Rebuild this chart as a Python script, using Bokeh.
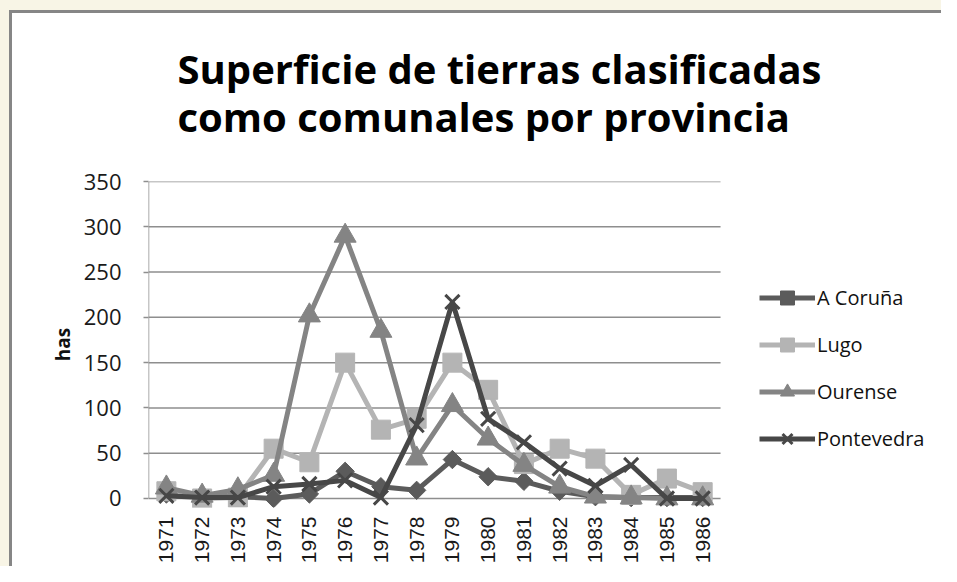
from bokeh.plotting import figure
from bokeh.models import Legend, LegendItem, Range1d, FixedTicker, Title
from bokeh.embed import file_html
from bokeh.resources import INLINE
import math

years = ["1971", "1972", "1973", "1974", "1975", "1976", "1977", "1978",
         "1979", "1980", "1981", "1982", "1983", "1984", "1985", "1986"]
a_coruna = [5, 2, 2, 0, 5, 30, 13, 9, 43, 24, 19, 8, 2, 1, 1, 1]
lugo = [8, 0, 1, 55, 40, 150, 76, 88, 150, 120, 38, 55, 44, 4, 22, 7]
ourense = [12, 3, 10, 26, 202, 290, 185, 44, 103, 66, 37, 13, 2, 1, 0, 0]
pontevedra = [3, 1, 1, 13, 16, 20, 1, 81, 217, 88, 62, 33, 14, 37, 0, 0]
series_names = ["A Coruña", "Lugo", "Ourense", "Pontevedra"]
y_ticks = [0, 50, 100, 150, 200, 250, 300, 350]
title_text = "Superficie de tierras clasificadas\ncomo comunales por provincia"
y_label = "has"

xs = list(range(len(years)))
x_lo, x_hi = -0.5, len(years) - 0.5

W, H = 941, 566
p = figure(x_range=Range1d(x_lo, 21.68), y_range=Range1d(-9.94, y_ticks[-1]),
           width=W, height=H, title=None,
           output_backend="svg", toolbar_location=None)
p.min_border_left = 148
p.min_border_right = 0
p.min_border_top = 181
p.min_border_bottom = 59
p.outline_line_color = None
p.background_fill_color = "white"
p.border_fill_color = None
beige = "#f8f5e6"
edge = "#868686"
p.styles = {
    "background": (
        f"linear-gradient(to bottom, {beige} 0px, {beige} 10px, transparent 10px), "
        f"linear-gradient(to right, {beige} 0px, {beige} 9px, {edge} 9px, {edge} 12px, transparent 12px), "
        f"linear-gradient(to bottom, {beige} 0px, {beige} 10px, {edge} 10px, {edge} 13px, white 13px)"
    ),
}

grid_col = "#8e8e8e"
p.xgrid.grid_line_color = None
p.ygrid.grid_line_color = None
p.yaxis.ticker = FixedTicker(ticks=y_ticks)
p.yaxis.axis_line_color = None
p.yaxis.major_tick_line_color = grid_col
p.yaxis.major_tick_line_width = 1.5
p.yaxis.major_tick_out = 5
p.yaxis.major_tick_in = 0
p.yaxis.minor_tick_line_color = None
p.yaxis.major_label_standoff = 22
p.yaxis.major_label_text_font = "Open Sans"
p.yaxis.major_label_text_font_size = "22px"
p.yaxis.major_label_text_color = "#1a1a1a"
p.yaxis.axis_label = y_label
p.yaxis.axis_label_text_font = "Open Sans"
p.yaxis.axis_label_text_font_style = "bold"
p.yaxis.axis_label_text_font_size = "19px"
p.yaxis.axis_label_text_color = "#111111"
p.yaxis.axis_label_standoff = 5

p.xaxis.ticker = FixedTicker(ticks=xs)
p.xaxis.major_label_overrides = {i: y for i, y in zip(xs, years)}
p.xaxis.axis_line_color = None
p.xaxis.major_tick_line_color = None
p.xaxis.minor_tick_line_color = None
p.xaxis.major_label_standoff = 3
p.xaxis.major_label_orientation = math.pi / 2
p.xaxis.major_label_text_font = "Liberation Sans"
p.xaxis.major_label_text_font_size = "21px"
p.xaxis.major_label_text_color = "#1a1a1a"

p.add_layout(Title(text=title_text, align="left", offset=29, standoff=74,
                   text_font="Open Sans", text_font_style="bold",
                   text_font_size="40px", text_line_height=0.88,
                   text_color="#000000"), "above")

# gridlines across the category span only, and the y axis line
p.segment(x0=[x_lo] * len(y_ticks), y0=y_ticks, x1=[x_hi] * len(y_ticks), y1=y_ticks,
          line_color=grid_col, line_width=1.5)
p.segment(x0=[x_lo], y0=[y_ticks[0]], x1=[x_lo], y1=[y_ticks[-1]],
          line_color=grid_col, line_width=1.5)

colors = ["#5b5b5b", "#b4b4b4", "#848484", "#474747"]
data = [a_coruna, lugo, ourense, pontevedra]
items = []
for name, vals, col in zip(series_names, data, colors):
    ln = p.line(xs, vals, line_color=col, line_width=5)
    if name == "A Coruña":
        mk = p.scatter(xs, vals, marker="square", angle=math.pi / 4, size=13,
                       fill_color=col, line_color=col)
    elif name == "Lugo":
        mk = p.scatter(xs, vals, marker="square", size=19,
                       fill_color=col, line_color=col)
    elif name == "Ourense":
        mk = p.scatter(xs, vals, marker="triangle", size=22,
                       fill_color=col, line_color=col)
    else:
        mk = p.scatter(xs, vals, marker="x", size=20,
                       line_color=col, line_width=3)
    items.append(LegendItem(label=name, renderers=[ln, mk]))

legend = Legend(items=items, location=(611, 51), orientation="vertical",
                glyph_width=56, glyph_height=35, label_height=20,
                label_standoff=2, spacing=12, padding=0, margin=0,
                background_fill_alpha=0, border_line_color=None,
                label_text_font="Open Sans", label_text_font_size="20px",
                label_text_color="#111111")
p.add_layout(legend, "center")

open("out.html", "w").write(file_html(p, INLINE))
